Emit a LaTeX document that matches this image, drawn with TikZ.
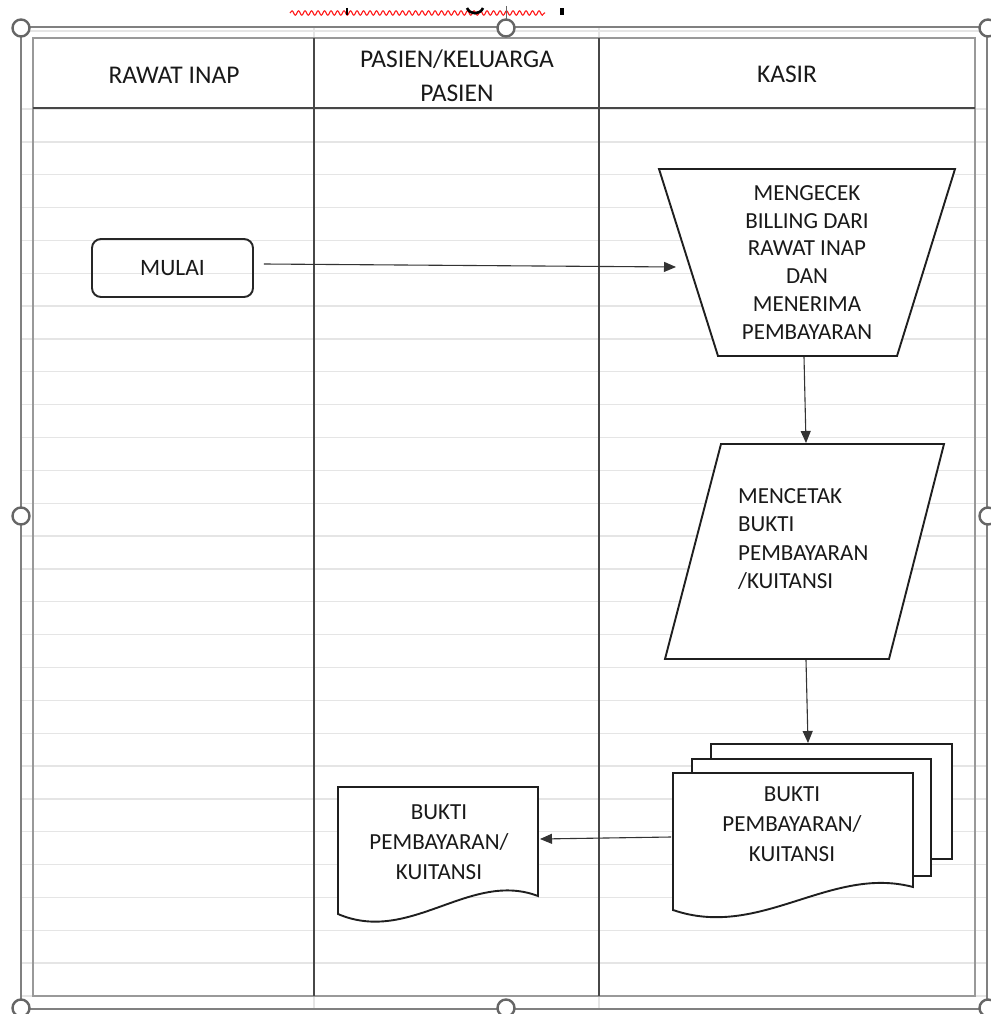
\documentclass[tikz,border=0pt]{standalone}
\usepackage{fontspec}
\setmainfont{Carlito}
\usetikzlibrary{arrows.meta,calc,decorations.pathmorphing}
\begin{document}
\begin{tikzpicture}[x=1pt,y=-1pt,
  gridln/.style={draw=black!10,line width=1.3pt},
  framel/.style={draw=black!50,line width=1.4pt},
  handle/.style={draw=black!60,fill=white,line width=2.4pt},
  tborder/.style={draw=black!40,line width=1.8pt},
  lane/.style={draw=black!72,line width=1.3pt},
  shp/.style={draw=black!88,line width=1.9pt,fill=white,line join=miter},
  conn/.style={draw=black!80,line width=1.1pt,-{Triangle[length=12pt,width=10pt]}},
  head/.style={font=\fontsize{25.5}{34}\selectfont,text=black!90,align=center,inner sep=0pt,anchor=north},
  body/.style={text=black!90,inner sep=0pt},
]
\useasboundingbox (0,0) rectangle (990,1014);
\fill[white] (0,0) rectangle (990,1014);
% spreadsheet gridlines
\foreach \i in {0,...,27} \draw[gridln] (21,{109+32.85*\i}) -- (987,{109+32.85*\i});
\draw[gridln] (21,31) -- (987,31);
\draw[gridln] (314,27) -- (314,38);
\draw[gridln] (314,996) -- (314,1009);
\draw[gridln] (599,27) -- (599,38);
\draw[gridln] (599,996) -- (599,1009);
% spell-check squiggle and cut-off glyphs
\draw[red!90,line width=1.1pt,decorate,decoration={snake,amplitude=2.2pt,segment length=6.5pt}] (290,13) -- (545,13);
\draw[black,line width=2.6pt] (347,8) -- (347,15);
\draw[black,line width=2.6pt] (467,8) .. controls (470,15) and (480,15) .. (483,8);
\fill[black] (560,8) rectangle (564,15);
\draw[black!60,line width=0.8pt] (506,6) -- (506,19);
% table
\draw[tborder] (33,38) rectangle (975,996);
\draw[lane] (33,108) -- (975,108);
\draw[lane] (314,38) -- (314,996);
\draw[lane] (599,38) -- (599,996);
% selection frame
\draw[framel] (21,27) rectangle (987,1009);
\foreach \p in {(21,28),(506,28),(988,28),(21,516),(988,516),(21,1008),(506,1008),(988,1008)}
  \draw[handle] \p circle (8.5);
% headers
\node[head] (hRawat) at (174,66.5) {RAWAT INAP};
\node[head] (hPasien) at (457,50) {PASIEN/KELUARGA\\PASIEN};
\node[head] (hKasir) at (787,65.5) {KASIR};
% MULAI
\node[draw=black!85,line width=1.9pt,rounded corners=9pt,minimum width=161pt,minimum height=58pt,
  font=\fontsize{23.5}{28}\selectfont,text=black!90] (mulai) at (172.5,268) {MULAI};
% trapezoid (manual operation)
\draw[shp] (659,169) -- (955,169) -- (897,356) -- (718,356) -- cycle;
\node[body,font=\fontsize{23}{27.9}\selectfont,align=center,anchor=north] (tTrap) at (807,185)
  {MENGECEK\\BILLING DARI\\RAWAT INAP\\DAN\\MENERIMA\\PEMBAYARAN};
\coordinate (trapIn) at (676,267);
\coordinate (trapOut) at (804,357);
% parallelogram
\draw[shp] (721,444) -- (944,444) -- (889,659) -- (665,659) -- cycle;
\node[body,font=\fontsize{23}{28.6}\selectfont,align=left,anchor=north west] (tPara) at (738,488)
  {MENCETAK\\BUKTI\\PEMBAYARAN\\/KUITANSI};
\coordinate (paraIn) at (806,443);
\coordinate (paraOut) at (806,660);
% multi-document
\draw[shp] (711,744) -- (952,744) -- (952,859) -- (711,859) -- cycle;
\draw[shp] (692,759) -- (931,759) -- (931,876) -- (692,876) -- cycle;
\draw[shp] (673,773) -- (913,773) -- (913,887) .. controls (830,865) and (760,940) .. (673,910) -- cycle;
\node[body,font=\fontsize{23}{30}\selectfont,align=center,anchor=north] (tMulti) at (792,787)
  {BUKTI\\PEMBAYARAN/\\KUITANSI};
\coordinate (multiIn) at (808,743);
\coordinate (multiOut) at (671,837);
% single document
\draw[shp] (338,787) -- (538,787) -- (538,896) .. controls (470,870) and (410,945) .. (338,914) -- cycle;
\node[body,font=\fontsize{23}{30}\selectfont,align=center,anchor=north] (tDoc) at (439,805)
  {BUKTI\\PEMBAYARAN/\\KUITANSI};
\coordinate (docIn) at (540,839);
% connectors
\draw[conn] ($(mulai.east)+(10,-4)$) -- (trapIn);
\draw[conn] (trapOut) -- (paraIn);
\draw[conn] (paraOut) -- (multiIn);
\draw[conn] (multiOut) -- (docIn);
\end{tikzpicture}
\end{document}
